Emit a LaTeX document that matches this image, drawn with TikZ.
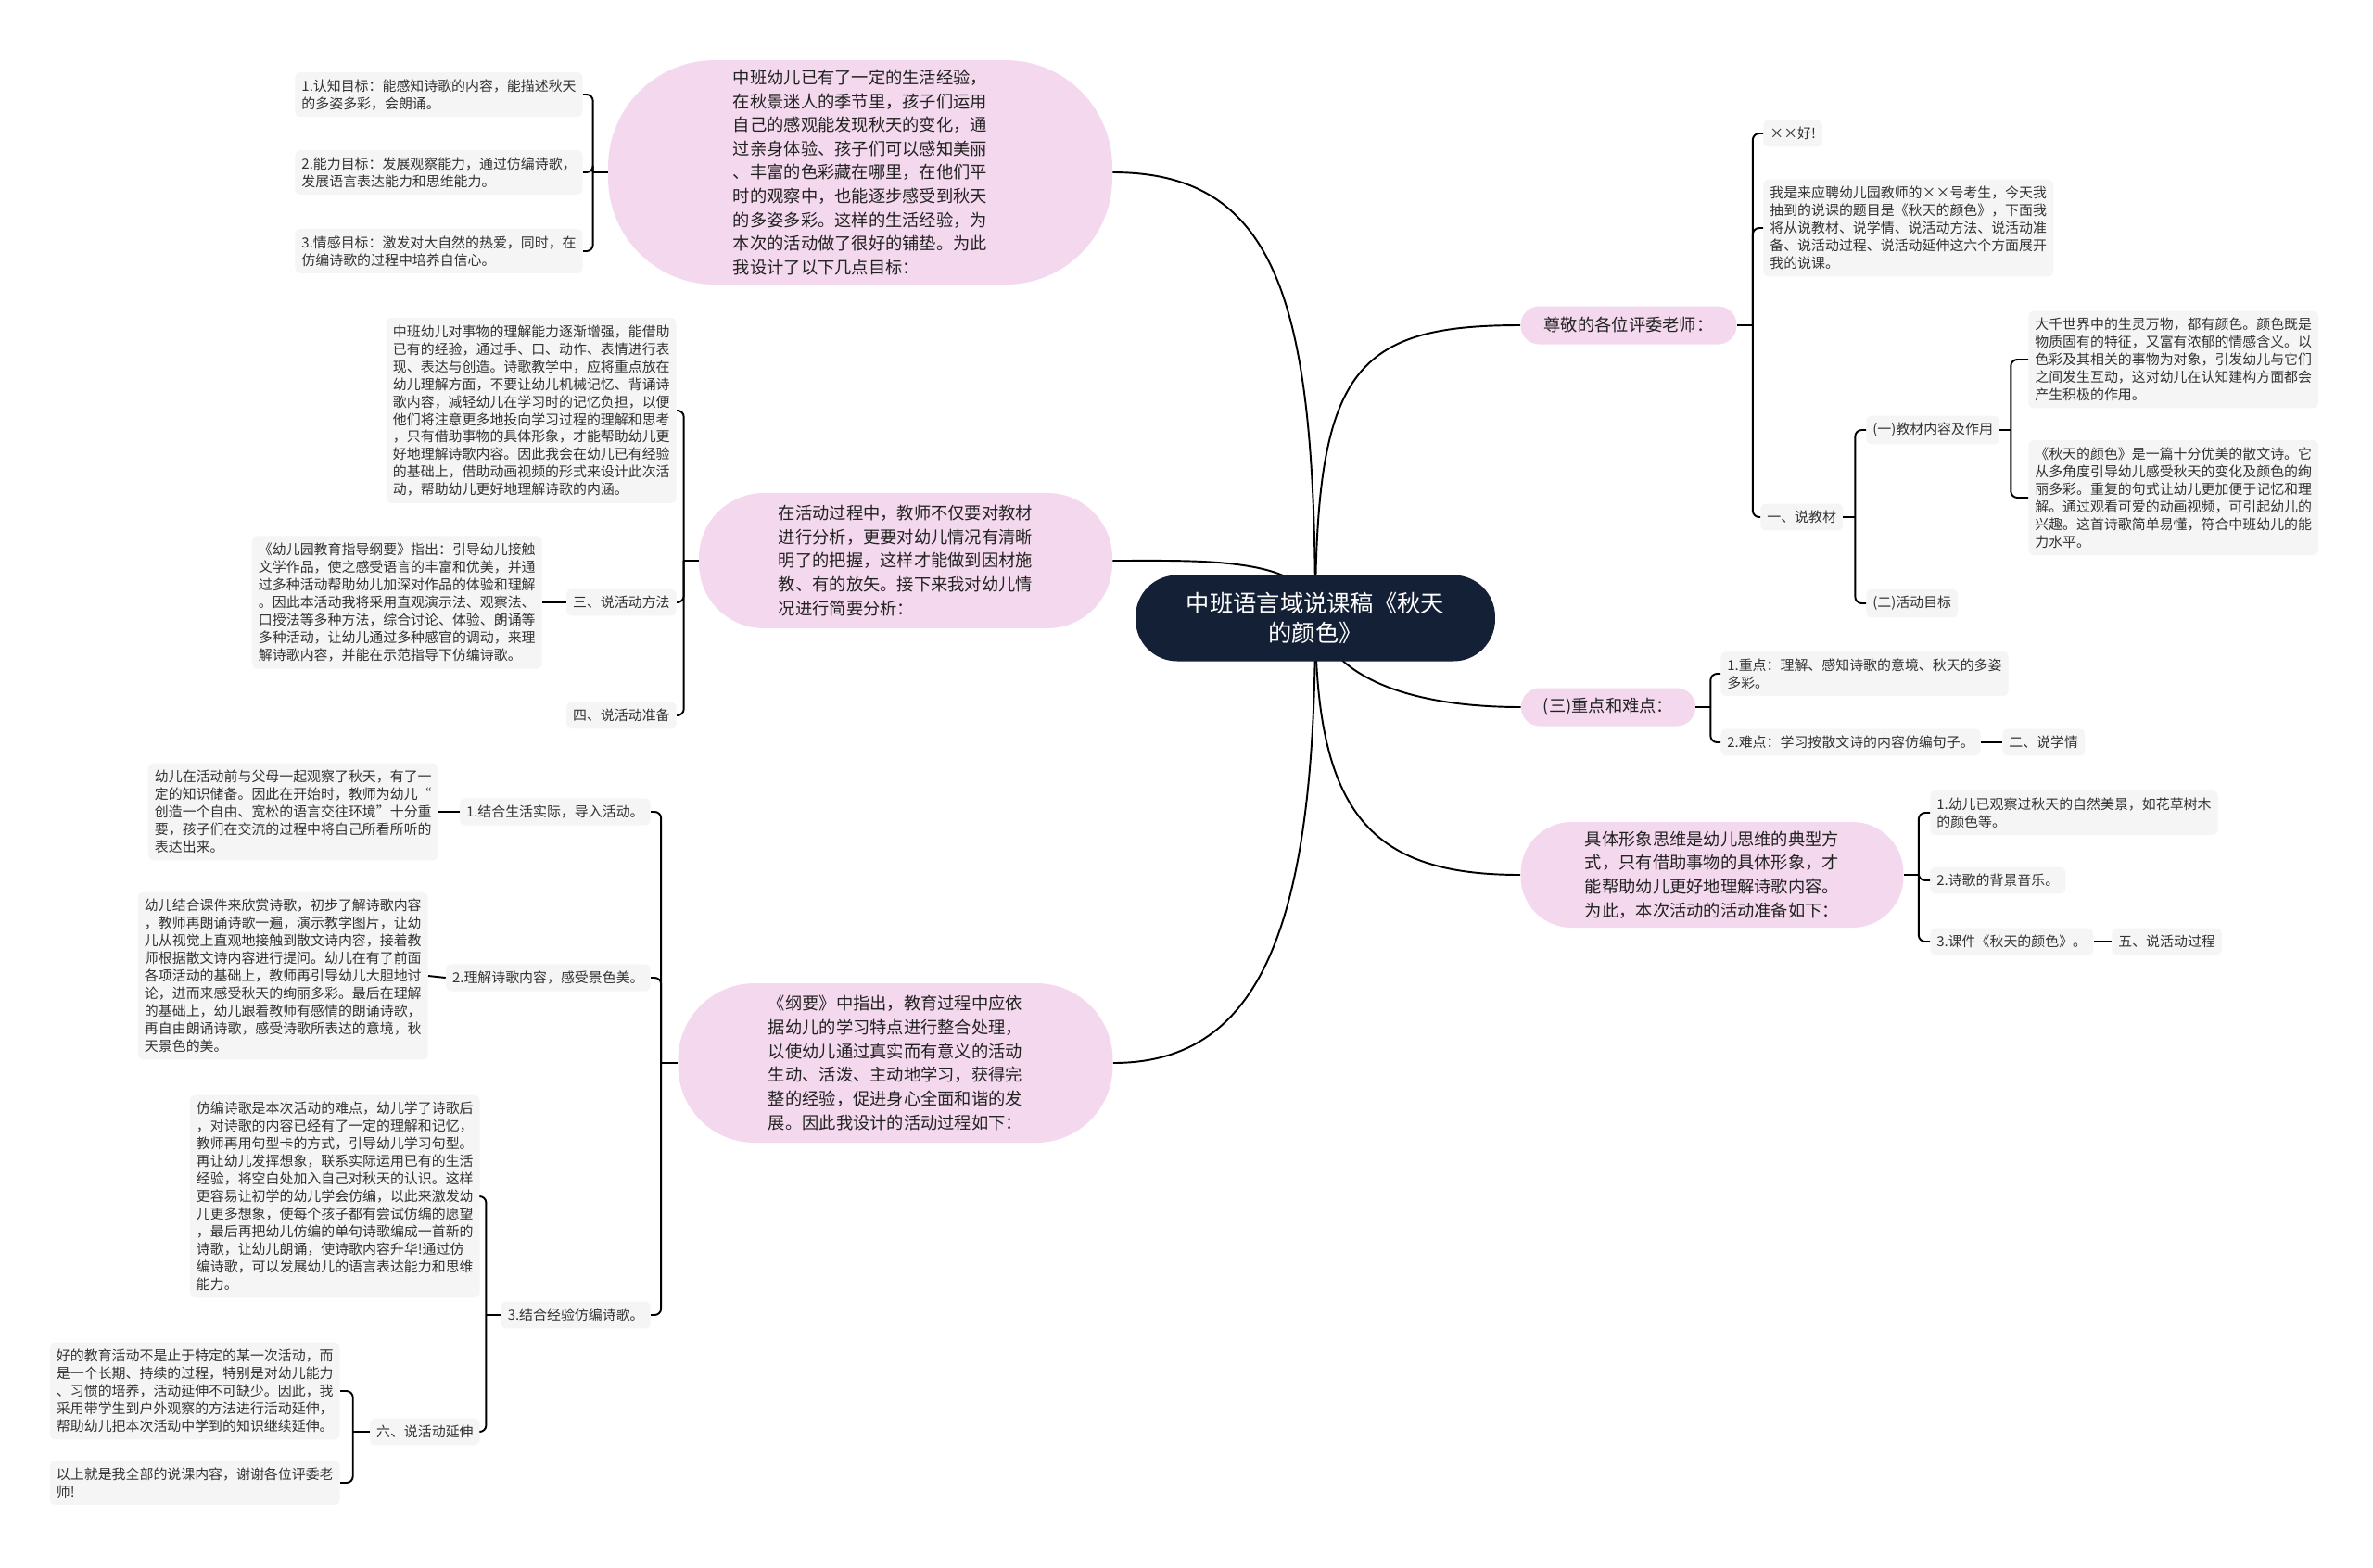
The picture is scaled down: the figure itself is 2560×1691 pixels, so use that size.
\documentclass[tikz,border=0pt]{standalone}
\usepackage{fontspec}
\setmainfont{Noto Sans CJK SC}
\usetikzlibrary{backgrounds}

\definecolor{pinkfill}{HTML}{F4D9EE}
\definecolor{leaffill}{HTML}{F5F5F5}
\definecolor{hubfill}{HTML}{142036}
\definecolor{leaftext}{HTML}{333333}
\definecolor{topictext}{HTML}{222222}

\newcommand{\leaffont}{\fontsize{8.5}{10.8}\selectfont}
\newcommand{\pinkfont}{\fontsize{10.4}{14.6}\selectfont}
\newcommand{\hubfont}{\fontsize{14.4}{18.5}\selectfont}

\tikzset{
  hubnode/.style={fill=hubfill, text=white, font=\hubfont, align=center, rounded corners=0.9cm, minimum width=7.76cm, minimum height=1.86cm, inner sep=0pt},
  topic/.style={fill=pinkfill, text=topictext, font=\pinkfont, align=left, inner sep=0pt},
  leaf/.style={fill=leaffill, text=leaftext, font=\leaffont, align=left, rounded corners=3pt, inner xsep=0.14cm, inner ysep=0.15cm},
  link/.style={line width=1.1pt},
  forklink/.style={line width=1.1pt, rounded corners=4pt},
}

\begin{document}
\begin{tikzpicture}[x=0.02cm, y=-0.02cm]

    \useasboundingbox (0,0) rectangle (2560,1691);

    % central topic
    \node[hubnode] (hub) at (1419,667) {中班语言域说课稿《秋天\\的颜色》};

    % main branches, left side
    \node[topic, minimum width=10.88cm, minimum height=4.84cm, rounded corners=2.3cm] (goals) at (928,186)
        {中班幼儿已有了一定的生活经验，\\在秋景迷人的季节里，孩子们运用\\自己的感观能发现秋天的变化，通\\过亲身体验、孩子们可以感知美丽\\、丰富的色彩藏在哪里，在他们平\\时的观察中，也能逐步感受到秋天\\的多姿多彩。这样的生活经验，为\\本次的活动做了很好的铺垫。为此\\我设计了以下几点目标：};
    \node[topic, minimum width=8.92cm, minimum height=2.92cm, rounded corners=1.4cm] (study) at (977,605)
        {在活动过程中，教师不仅要对教材\\进行分析，更要对幼儿情况有清晰\\明了的把握，这样才能做到因材施\\教、有的放矢。接下来我对幼儿情\\况进行简要分析：};
    \node[topic, minimum width=9.38cm, minimum height=3.44cm, rounded corners=1.65cm] (process) at (966,1147)
        {《纲要》中指出，教育过程中应依\\据幼儿的学习特点进行整合处理，\\以使幼儿通过真实而有意义的活动\\生动、活泼、主动地学习，获得完\\整的经验，促进身心全面和谐的发\\展。因此我设计的活动过程如下：};

    % main branches, right side
    \node[topic, minimum width=4.66cm, minimum height=0.82cm, rounded corners=0.4cm] (intro) at (1757,351) {尊敬的各位评委老师：};
    \node[topic, minimum width=3.76cm, minimum height=0.82cm, rounded corners=0.4cm] (keypts) at (1735,763) {(三)重点和难点：};
    \node[topic, minimum width=8.26cm, minimum height=2.28cm, rounded corners=1.1cm] (prep) at (1847,944)
        {具体形象思维是幼儿思维的典型方\\式，只有借助事物的具体形象，才\\能帮助幼儿更好地理解诗歌内容。\\为此，本次活动的活动准备如下：};

    % hub connectors
    \begin{scope}[on background layer]
        \fill[white] (0,0) rectangle (2560,1691);
        \draw[link] (hub.center) .. controls (1419,330) and (1380,186) .. (goals.east);
        \draw[link] (study.east) .. controls (1300,605) and (1419,600) .. (hub.center);
        \draw[link] (hub.center) .. controls (1419,1000) and (1360,1147) .. (process.east);
        \draw[link] (hub.center) .. controls (1419,400) and (1460,351) .. (intro.west);
        \draw[link] (hub.center) .. controls (1440,740) and (1540,763) .. (keypts.west);
        \draw[link] (hub.center) .. controls (1419,880) and (1480,944) .. (prep.west);
    \end{scope}

    % goals
    \node[leaf, anchor=east] (goalA) at (629,102) {1.认知目标：能感知诗歌的内容，能描述秋天\\的多姿多彩，会朗诵。};
    \node[leaf, anchor=east] (goalB) at (629,186) {2.能力目标：发展观察能力，通过仿编诗歌，\\发展语言表达能力和思维能力。};
    \node[leaf, anchor=east] (goalC) at (629,271) {3.情感目标：激发对大自然的热爱，同时，在\\仿编诗歌的过程中培养自信心。};
    \draw[link] (goals.west) -- ++(-16,0) coordinate (goalFork);
    \draw[forklink] (goalFork) |- (goalA.east);
    \draw[forklink] (goalFork) |- (goalB.east);
    \draw[forklink] (goalFork) |- (goalC.east);

    % study analysis
    \node[leaf, anchor=east] (learnText) at (730,443)
        {中班幼儿对事物的理解能力逐渐增强，能借助\\已有的经验，通过手、口、动作、表情进行表\\现、表达与创造。诗歌教学中，应将重点放在\\幼儿理解方面，不要让幼儿机械记忆、背诵诗\\歌内容，减轻幼儿在学习时的记忆负担，以便\\他们将注意更多地投向学习过程的理解和思考\\，只有借助事物的具体形象，才能帮助幼儿更\\好地理解诗歌内容。因此我会在幼儿已有经验\\的基础上，借助动画视频的形式来设计此次活\\动，帮助幼儿更好地理解诗歌的内涵。};
    \node[leaf, anchor=east] (method) at (730,650) {三、说活动方法};
    \node[leaf, anchor=east] (methodText) at (585,650)
        {《幼儿园教育指导纲要》指出：引导幼儿接触\\文学作品，使之感受语言的丰富和优美，并通\\过多种活动帮助幼儿加深对作品的体验和理解\\。因此本活动我将采用直观演示法、观察法、\\口授法等多种方法，综合讨论、体验、朗诵等\\多种活动，让幼儿通过多种感官的调动，来理\\解诗歌内容，并能在示范指导下仿编诗歌。};
    \node[leaf, anchor=east] (ready) at (730,772) {四、说活动准备};
    \draw[link] (study.west) -- ++(-16,0) coordinate (studyFork);
    \draw[forklink] (studyFork) |- (learnText.east);
    \draw[forklink] (studyFork) |- (method.east);
    \draw[forklink] (studyFork) |- (ready.east);
    \draw[link] (method.west) -- (methodText.east);

    % process steps
    \node[leaf, anchor=east] (stepA) at (702,876) {1.结合生活实际，导入活动。};
    \node[leaf, anchor=east] (stepAText) at (473,876)
        {幼儿在活动前与父母一起观察了秋天，有了一\\定的知识储备。因此在开始时，教师为幼儿“\\创造一个自由、宽松的语言交往环境”十分重\\要，孩子们在交流的过程中将自己所看所听的\\表达出来。};
    \node[leaf, anchor=east] (stepB) at (702,1055) {2.理解诗歌内容，感受景色美。};
    \node[leaf, anchor=east] (stepBText) at (462,1053)
        {幼儿结合课件来欣赏诗歌，初步了解诗歌内容\\，教师再朗诵诗歌一遍，演示教学图片，让幼\\儿从视觉上直观地接触到散文诗内容，接着教\\师根据散文诗内容进行提问。幼儿在有了前面\\各项活动的基础上，教师再引导幼儿大胆地讨\\论，进而来感受秋天的绚丽多彩。最后在理解\\的基础上，幼儿跟着教师有感情的朗诵诗歌，\\再自由朗诵诗歌，感受诗歌所表达的意境，秋\\天景色的美。};
    \node[leaf, anchor=east] (stepC) at (702,1419) {3.结合经验仿编诗歌。};
    \node[leaf, anchor=east] (stepCText) at (518,1291)
        {仿编诗歌是本次活动的难点，幼儿学了诗歌后\\，对诗歌的内容已经有了一定的理解和记忆，\\教师再用句型卡的方式，引导幼儿学习句型。\\再让幼儿发挥想象，联系实际运用已有的生活\\经验，将空白处加入自己对秋天的认识。这样\\更容易让初学的幼儿学会仿编，以此来激发幼\\儿更多想象，使每个孩子都有尝试仿编的愿望\\，最后再把幼儿仿编的单句诗歌编成一首新的\\诗歌，让幼儿朗诵，使诗歌内容升华!通过仿\\编诗歌，可以发展幼儿的语言表达能力和思维\\能力。};
    \node[leaf, anchor=east] (extend) at (518,1545) {六、说活动延伸};
    \node[leaf, anchor=east] (extendText) at (367,1501)
        {好的教育活动不是止于特定的某一次活动，而\\是一个长期、持续的过程，特别是对幼儿能力\\、习惯的培养，活动延伸不可缺少。因此，我\\采用带学生到户外观察的方法进行活动延伸，\\帮助幼儿把本次活动中学到的知识继续延伸。};
    \node[leaf, anchor=east] (closing) at (367,1600) {以上就是我全部的说课内容，谢谢各位评委老\\师!};
    \draw[link] (process.west) -- ++(-18,0) coordinate (procFork);
    \draw[forklink] (procFork) |- (stepA.east);
    \draw[forklink] (procFork) |- (stepB.east);
    \draw[forklink] (procFork) |- (stepC.east);
    \draw[link] (stepA.west) -- (stepAText.east);
    \draw[link] (stepB.west) -- (stepBText.east);
    \draw[link] (stepC.west) -- ++(-16,0) coordinate (stepCFork);
    \draw[forklink] (stepCFork) |- (stepCText.east);
    \draw[forklink] (stepCFork) |- (extend.east);
    \draw[link] (extend.west) -- ++(-18,0) coordinate (extendFork);
    \draw[forklink] (extendFork) |- (extendText.east);
    \draw[forklink] (extendFork) |- (closing.east);

    % opening and teaching material
    \node[leaf, anchor=west] (hello) at (1902,144) {××好!};
    \node[leaf, anchor=west] (opening) at (1902,246)
        {我是来应聘幼儿园教师的××号考生，今天我\\抽到的说课的题目是《秋天的颜色》，下面我\\将从说教材、说学情、说活动方法、说活动准\\备、说活动过程、说活动延伸这六个方面展开\\我的说课。};
    \node[leaf, anchor=west] (material) at (1899,558) {一、说教材};
    \node[leaf, anchor=west] (matContent) at (2013,464) {(一)教材内容及作用};
    \node[leaf, anchor=west] (matGoal) at (2013,651) {(二)活动目标};
    \node[leaf, anchor=west] (contentA) at (2188,388)
        {大千世界中的生灵万物，都有颜色。颜色既是\\物质固有的特征，又富有浓郁的情感含义。以\\色彩及其相关的事物为对象，引发幼儿与它们\\之间发生互动，这对幼儿在认知建构方面都会\\产生积极的作用。};
    \node[leaf, anchor=west] (contentB) at (2188,537)
        {《秋天的颜色》是一篇十分优美的散文诗。它\\从多角度引导幼儿感受秋天的变化及颜色的绚\\丽多彩。重复的句式让幼儿更加便于记忆和理\\解。通过观看可爱的动画视频，可引起幼儿的\\兴趣。这首诗歌简单易懂，符合中班幼儿的能\\力水平。};
    \draw[link] (intro.east) -- ++(17,0) coordinate (introFork);
    \draw[forklink] (introFork) |- (hello.west);
    \draw[forklink] (introFork) |- (opening.west);
    \draw[forklink] (introFork) |- (material.west);
    \draw[link] (material.east) -- ++(13,0) coordinate (matFork);
    \draw[forklink] (matFork) |- (matContent.west);
    \draw[forklink] (matFork) |- (matGoal.west);
    \draw[link] (matContent.east) -- ++(12,0) coordinate (contentFork);
    \draw[forklink] (contentFork) |- (contentA.west);
    \draw[forklink] (contentFork) |- (contentB.west);

    % key points
    \node[leaf, anchor=west] (keyA) at (1856,727) {1.重点：理解、感知诗歌的意境、秋天的多姿\\多彩。};
    \node[leaf, anchor=west] (keyB) at (1856,801) {2.难点：学习按散文诗的内容仿编句子。};
    \node[leaf, anchor=west] (learnSec) at (2160,801) {二、说学情};
    \draw[link] (keypts.east) -- ++(16,0) coordinate (keyFork);
    \draw[forklink] (keyFork) |- (keyA.west);
    \draw[forklink] (keyFork) |- (keyB.west);
    \draw[link] (keyB.east) -- (learnSec.west);

    % preparation
    \node[leaf, anchor=west] (prepA) at (2082,877) {1.幼儿已观察过秋天的自然美景，如花草树木\\的颜色等。};
    \node[leaf, anchor=west] (prepB) at (2082,950) {2.诗歌的背景音乐。};
    \node[leaf, anchor=west] (prepC) at (2082,1016) {3.课件《秋天的颜色》。};
    \node[leaf, anchor=west] (procSec) at (2278,1016) {五、说活动过程};
    \draw[link] (prep.east) -- ++(16,0) coordinate (prepFork);
    \draw[forklink] (prepFork) |- (prepA.west);
    \draw[forklink] (prepFork) |- (prepB.west);
    \draw[forklink] (prepFork) |- (prepC.west);
    \draw[link] (prepC.east) -- (procSec.west);

\end{tikzpicture}
\end{document}
